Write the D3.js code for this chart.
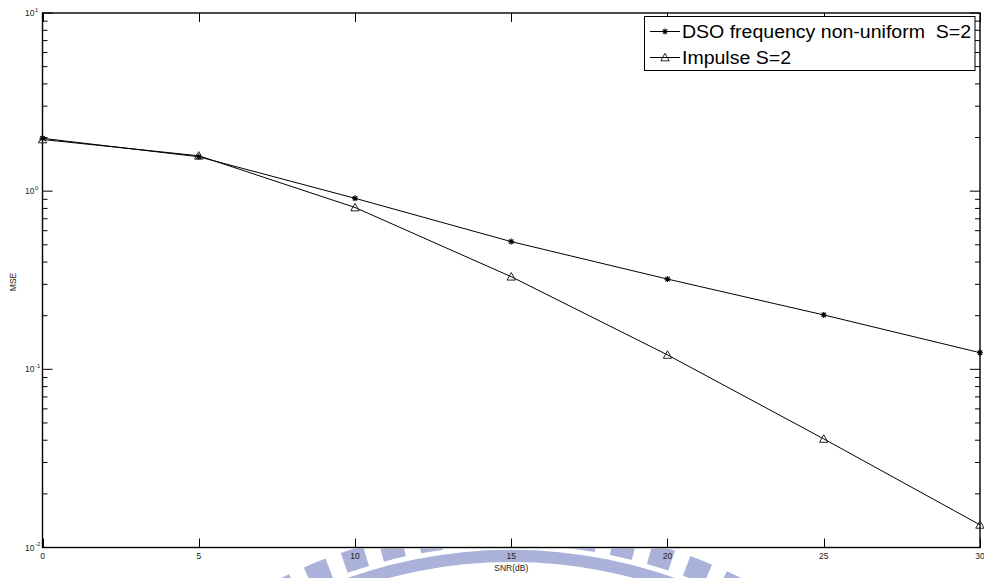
<!DOCTYPE html>
<html>
<head>
<meta charset="utf-8">
<script src="https://cdn.jsdelivr.net/npm/d3@7/dist/d3.min.js"></script>
<style>
  html, body { margin: 0; padding: 0; background: #fff; }
  svg { display: block; font-family: "Liberation Sans", Arial, Helvetica, sans-serif; }
</style>
</head>
<body>
<svg id="chart" width="984" height="578"></svg>
<script>
// SNR sweep (dB) and mean squared error for each estimator
const snr = [0, 5, 10, 15, 20, 25, 30];
const dsoMse = [1.98, 1.56, 0.912, 0.521, 0.321, 0.202, 0.124];
const impulseMse = [1.95, 1.58, 0.81, 0.331, 0.1205, 0.0407, 0.0134];
const xTicks = [0, 5, 10, 15, 20, 25, 30];
const yDecades = [-2, -1, 0, 1];
const seriesNames = ["DSO frequency non-uniform\u00a0 S=2", "Impulse S=2"];

const W = 984, H = 578;
const plot = { left: 42.5, right: 980, top: 13, bottom: 547.5 };

const svg = d3.select("#chart");

const x = d3.scaleLinear().domain([0, 30]).range([plot.left, plot.right]);
const y = d3.scaleLog().domain([1e-2, 1e1]).range([plot.bottom, plot.top]);

// Faint emblem below the axes
const wm = svg.append("g").attr("fill", "#aab2da");
const cx = (plot.left + plot.right) / 2, cy = 1040;
const clip = svg.append("defs").append("clipPath").attr("id", "below");
clip.append("rect").attr("x", 0).attr("y", plot.bottom + 1).attr("width", W).attr("height", H);
wm.attr("clip-path", "url(#below)");
wm.append("path")
  .attr("transform", `translate(${cx},${cy})`)
  .attr("d", d3.arc()({ innerRadius: 478, outerRadius: 490, startAngle: -Math.PI / 2, endAngle: Math.PI / 2 }));
for (let a = -40; a <= 40; a += 4.4) {
  wm.append("path")
    .attr("transform", `translate(${cx},${cy})`)
    .attr("d", d3.arc()({
      innerRadius: 495, outerRadius: 516,
      startAngle: (a - 1.3) * Math.PI / 180, endAngle: (a + 1.3) * Math.PI / 180
    }));
}

// Plot background
svg.append("rect")
  .attr("x", plot.left).attr("y", plot.top)
  .attr("width", plot.right - plot.left).attr("height", plot.bottom - plot.top)
  .attr("fill", "#fff");

const axisColor = "#000";
const tickG = svg.append("g").attr("stroke", axisColor).attr("stroke-width", 1);

// X ticks (bottom and top, pointing inward)
xTicks.forEach(t => {
  const px = Math.round(x(t)) + 0.5;
  tickG.append("line").attr("x1", px).attr("x2", px).attr("y1", plot.bottom).attr("y2", plot.bottom - 9);
  tickG.append("line").attr("x1", px).attr("x2", px).attr("y1", plot.top).attr("y2", plot.top + 9);
});

// Y ticks: major at decades, minor at 2..9
yDecades.forEach((d, i) => {
  const v = Math.pow(10, d);
  const py = y(v);
  tickG.append("line").attr("x1", plot.left).attr("x2", plot.left + 10).attr("y1", py).attr("y2", py);
  tickG.append("line").attr("x1", plot.right).attr("x2", plot.right - 10).attr("y1", py).attr("y2", py);
  if (i < yDecades.length - 1) {
    for (let m = 2; m <= 9; m++) {
      const pm = y(v * m);
      tickG.append("line").attr("x1", plot.left).attr("x2", plot.left + 5).attr("y1", pm).attr("y2", pm);
      tickG.append("line").attr("x1", plot.right).attr("x2", plot.right - 5).attr("y1", pm).attr("y2", pm);
    }
  }
});

// Axes box
svg.append("rect")
  .attr("x", plot.left).attr("y", plot.top)
  .attr("width", plot.right - plot.left).attr("height", plot.bottom - plot.top)
  .attr("fill", "none").attr("stroke", axisColor).attr("stroke-width", 1.4);

// Tick labels
const labelColor = "#222";
svg.append("g").selectAll("text").data(xTicks).join("text")
  .attr("x", d => x(d)).attr("y", plot.bottom + 11.5)
  .attr("text-anchor", "middle").attr("font-size", 8.5).attr("fill", labelColor)
  .text(d => d);

const yl = svg.append("g").attr("fill", labelColor);
yDecades.forEach(d => {
  const py = y(Math.pow(10, d));
  yl.append("text").attr("x", 34.5).attr("y", py + 3).attr("text-anchor", "end")
    .attr("font-size", 8.5).text("10");
  yl.append("text").attr("x", 35).attr("y", py - 1.5).attr("font-size", 6).text(d);
});

// Axis titles
svg.append("text").attr("x", (plot.left + plot.right) / 2).attr("y", 571)
  .attr("text-anchor", "middle").attr("font-size", 8.5).attr("fill", labelColor).text("SNR(dB)");
svg.append("text").attr("transform", `translate(16,282) rotate(-90)`)
  .attr("text-anchor", "middle").attr("font-size", 8.5).attr("fill", labelColor).text("MSE");

// Series
const line = d3.line().x((d, i) => x(snr[i])).y(d => y(d));
const seriesG = svg.append("g");
seriesG.append("path").datum(dsoMse).attr("d", line)
  .attr("fill", "none").attr("stroke", "#000").attr("stroke-width", 1);
seriesG.append("path").datum(impulseMse).attr("d", line)
  .attr("fill", "none").attr("stroke", "#000").attr("stroke-width", 1);

function starMarker(g, px, py) {
  const s = 3;
  g.append("path")
    .attr("d", `M${px - s},${py}L${px + s},${py}M${px},${py - s}L${px},${py + s}` +
      `M${px - 2.2},${py - 2.2}L${px + 2.2},${py + 2.2}M${px - 2.2},${py + 2.2}L${px + 2.2},${py - 2.2}`)
    .attr("stroke", "#000").attr("stroke-width", 1.1).attr("fill", "none");
}
function triMarker(g, px, py) {
  const s = 4.2;
  g.append("path")
    .attr("d", `M${px},${py - s}L${px + s},${py + s * 0.8}L${px - s},${py + s * 0.8}Z`)
    .attr("stroke", "#222").attr("stroke-width", 1).attr("fill", "none");
}

impulseMse.forEach((v, i) => triMarker(seriesG, x(snr[i]), y(v)));
dsoMse.forEach((v, i) => starMarker(seriesG, x(snr[i]), y(v)));

// Legend
const lg = svg.append("g");
lg.append("rect").attr("x", 644.5).attr("y", 16.5).attr("width", 330.5).attr("height", 54)
  .attr("fill", "#fff").attr("stroke", "#000").attr("stroke-width", 1);
const rows = [31.5, 57.5];
const legendTextWidths = [289, 109];
rows.forEach((ry, i) => {
  lg.append("line").attr("x1", 650).attr("x2", 680).attr("y1", ry).attr("y2", ry)
    .attr("stroke", "#000").attr("stroke-width", 1);
  if (i === 0) starMarker(lg, 665, ry); else triMarker(lg, 665, ry);
  lg.append("text").attr("x", 682).attr("y", ry + 6.3).attr("font-size", 18).attr("fill", "#000")
    .attr("textLength", legendTextWidths[i]).attr("lengthAdjust", "spacingAndGlyphs")
    .text(seriesNames[i]);
});
</script>
</body>
</html>
